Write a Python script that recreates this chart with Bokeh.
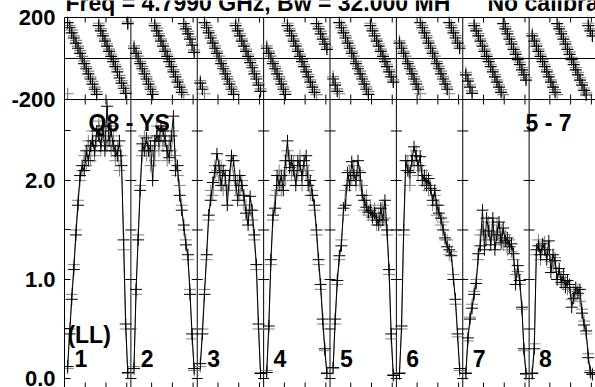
from bokeh.plotting import figure
from bokeh.models import Range1d, LinearAxis, FixedTicker, CustomJSTickFormatter, Span, Label
from bokeh.embed import file_html
from bokeh.resources import INLINE
import math

# ---------------- data ----------------
if_numbers = ["1", "2", "3", "4", "5", "6", "7", "8"]
channels = list(range(1, 31))          # 30 plotted channels per IF
x_ticks_in_if = [10, 20, 30]
amp_ticks = [0.0, 1.0, 2.0]
amp_minor_ticks = [0.5, 1.5, 2.5]
phase_ticks = [-200, 200]

amp_black = [
    [0.12, 0.45, 0.80, 1.10, 1.45, 1.75, 2.05, 2.15, 2.10, 2.30, 2.20, 2.35, 2.40, 2.30, 2.50, 2.45, 2.35, 2.55, 2.30, 2.75, 2.40, 2.50, 2.35, 2.30, 2.25, 2.40, 2.15, 1.40, 0.55, 0.06],
    [0.10, 0.90, 1.40, 1.90, 2.37, 2.30, 2.43, 2.30, 2.35, 2.00, 2.40, 2.45, 2.40, 2.55, 2.50, 2.40, 2.30, 2.23, 2.45, 2.65, 2.10, 2.15, 1.85, 1.70, 1.55, 1.35, 1.25, 0.85, 0.45, 0.10],
    [0.15, 0.45, 0.85, 1.25, 1.65, 1.80, 1.98, 2.08, 2.27, 2.15, 1.95, 2.10, 2.05, 1.75, 2.05, 2.25, 2.20, 2.00, 1.80, 2.05, 1.95, 1.85, 1.67, 1.55, 1.84, 1.70, 1.45, 1.15, 0.55, 0.05],
    [0.06, 0.53, 1.20, 1.65, 1.72, 2.05, 1.95, 2.05, 1.90, 2.20, 2.40, 2.13, 2.20, 2.10, 1.95, 2.20, 2.15, 2.05, 2.20, 2.25, 1.95, 2.00, 1.85, 1.75, 1.50, 1.20, 0.95, 0.60, 0.30, 0.05],
    [0.11, 0.60, 0.99, 1.24, 1.34, 1.72, 1.75, 2.08, 1.95, 2.19, 2.05, 2.00, 2.20, 2.08, 1.85, 1.80, 1.73, 1.68, 1.70, 1.63, 1.67, 1.60, 1.55, 1.72, 1.60, 1.80, 1.50, 1.10, 0.45, 0.03],
    [0.05, 0.53, 1.50, 2.20, 2.10, 2.08, 2.20, 2.34, 2.25, 2.15, 2.24, 2.00, 2.05, 1.95, 2.02, 1.92, 1.80, 1.90, 1.75, 1.67, 1.62, 1.50, 1.42, 1.33, 1.30, 1.24, 1.00, 0.80, 0.45, 0.10],
    [0.05, 0.41, 0.60, 0.71, 0.85, 0.96, 1.26, 1.34, 1.70, 1.30, 1.62, 1.49, 1.35, 1.62, 1.30, 1.45, 1.58, 1.37, 1.52, 1.39, 1.42, 1.33, 1.36, 1.26, 0.95, 1.14, 0.99, 0.72, 0.30, 0.05],
    [0.05, 0.30, 1.30, 1.34, 1.25, 1.36, 1.30, 1.20, 1.39, 1.07, 1.25, 1.19, 1.00, 1.11, 0.97, 1.05, 0.92, 0.99, 0.95, 0.72, 0.81, 0.92, 0.86, 0.90, 0.66, 0.54, 0.48, 0.21, 0.06, 0.04],
]

amp_grey = [
    [0.10, 0.50, 0.85, 1.15, 1.50, 1.80, 2.00, 2.10, 2.25, 2.15, 2.40, 2.20, 2.50, 2.25, 2.40, 2.60, 2.30, 2.45, 2.50, 2.35, 2.55, 2.30, 2.45, 2.20, 2.35, 2.10, 2.25, 1.30, 0.50, 0.05],
    [0.12, 0.85, 1.45, 1.95, 2.25, 2.45, 2.25, 2.40, 2.15, 2.30, 2.20, 2.55, 2.30, 2.45, 2.35, 2.50, 2.20, 2.40, 2.30, 2.50, 2.25, 2.05, 1.95, 1.75, 1.50, 1.40, 1.20, 0.90, 0.40, 0.08],
    [0.12, 0.50, 0.90, 1.20, 1.60, 1.90, 1.85, 2.15, 2.10, 2.00, 2.15, 1.90, 2.00, 1.90, 1.95, 2.20, 2.05, 1.90, 2.00, 1.85, 2.00, 1.75, 1.75, 1.60, 1.70, 1.60, 1.40, 1.10, 0.50, 0.06],
    [0.08, 0.50, 1.15, 1.60, 1.85, 1.90, 2.10, 1.90, 2.05, 2.00, 2.30, 2.25, 2.05, 2.20, 2.00, 2.05, 2.25, 1.95, 2.15, 2.05, 2.10, 1.85, 1.90, 1.70, 1.45, 1.15, 0.90, 0.55, 0.28, 0.06],
    [0.10, 0.55, 0.95, 1.20, 1.40, 1.65, 1.90, 1.95, 2.10, 2.00, 2.15, 1.95, 2.10, 1.95, 1.95, 1.70, 1.85, 1.65, 1.75, 1.60, 1.72, 1.55, 1.65, 1.58, 1.75, 1.62, 1.45, 1.05, 0.40, 0.04],
    [0.06, 0.50, 1.45, 2.10, 2.20, 1.95, 2.25, 2.15, 2.30, 2.05, 2.15, 2.10, 1.95, 2.05, 1.90, 1.95, 1.75, 1.85, 1.65, 1.75, 1.55, 1.58, 1.40, 1.40, 1.25, 1.28, 1.05, 0.75, 0.42, 0.08],
    [0.06, 0.38, 0.62, 0.75, 0.88, 1.00, 1.20, 1.45, 1.50, 1.45, 1.40, 1.58, 1.40, 1.48, 1.42, 1.55, 1.40, 1.48, 1.35, 1.45, 1.30, 1.40, 1.28, 1.20, 1.05, 1.08, 0.95, 0.70, 0.28, 0.04],
    [0.06, 0.35, 1.25, 1.40, 1.20, 1.32, 1.38, 1.25, 1.30, 1.18, 1.12, 1.22, 1.00, 1.08, 1.02, 0.95, 0.98, 0.90, 0.92, 0.80, 0.88, 0.84, 0.90, 0.78, 0.70, 0.58, 0.45, 0.25, 0.08, 0.05],
]

phase_black = [
    [175, 150, 125, 100, 75, 50, 25, 0, -25, -50, -75, -100, -125, -150, -175, 160, 135, 110, 85, 60, 35, 10, -15, -40, -65, -95, -120, -145, -170, 170],
    [50, 25, 0, -25, -50, -75, -100, -125, -150, -175, 160, 135, 110, 85, 60, 35, 10, -15, -40, -65, -90, -115, -140, -165, 170, 145, 120, 95, 65, 30],
    [-120, -150, 175, 150, 125, 100, 75, 50, 25, 0, -25, -50, -75, -100, -125, -150, -175, 160, 135, 110, 85, 60, 35, 10, -20, -45, -75, -100, -130, -160],
    [50, 25, 0, -25, -50, -75, -100, -125, -150, -175, 160, 135, 110, 85, 60, 35, 10, -15, -40, -65, -90, -115, -140, -165, 170, 145, 120, 95, 70, 45],
    [-100, -130, -160, 175, 150, 125, 100, 75, 50, 25, 0, -25, -50, -75, -100, -125, -150, -175, 160, 135, 110, 85, 60, 35, 10, -15, -40, -65, -90, -115],
    [75, 50, 25, 0, -25, -50, -75, -100, -125, -150, 175, 150, 125, 100, 75, 50, 25, 0, -25, -50, -75, -100, -125, -150, 175, 150, 125, 100, 75, 50],
    [-80, -110, -140, -170, 160, 135, 110, 85, 60, 35, 10, -15, -40, -65, -90, -115, -140, -165, 170, 145, 120, 95, 70, 45, 20, -5, -30, -55, -80, -105],
    [110, 85, 60, 35, 10, -15, -40, -65, -90, -115, -140, -165, 170, 145, 120, 95, 70, 45, 20, -5, -30, -55, -80, -105, -130, -155, -178, 160, 135, 110],
]

phase_grey = [
    [-172, 160, 138, 110, 88, 60, 38, 10, -12, -40, -62, -90, -112, -140, -162, 172, 146, 122, 96, 72, 46, 22, -4, -28, -52, -82, -108, -132, -158, 178],
    [62, 36, 12, -14, -38, -62, -88, -112, -138, -162, 172, 148, 122, 96, 72, 46, 22, -4, -28, -54, -78, -104, -128, -152, -176, 156, 132, 106, 78, 42],
    [-108, -138, -172, 162, 136, 112, 86, 62, 36, 12, -12, -38, -62, -88, -112, -138, -162, 172, 146, 122, 96, 72, 46, 22, -8, -34, -62, -88, -118, -148],
    [62, 36, 12, -14, -38, -62, -88, -112, -138, -162, 172, 146, 122, 96, 72, 46, 22, -4, -28, -54, -78, -104, -128, -152, -176, 156, 132, 106, 82, 56],
    [-88, -118, -148, -172, 162, 136, 112, 86, 62, 36, 12, -14, -38, -62, -88, -112, -138, -162, 172, 146, 122, 96, 72, 46, 22, -4, -28, -54, -78, -104],
    [86, 62, 36, 12, -14, -38, -62, -88, -112, -138, -172, 162, 136, 112, 86, 62, 36, 12, -14, -38, -62, -88, -112, -138, -172, 162, 136, 112, 86, 62],
    [-68, -98, -128, -158, 172, 146, 122, 96, 72, 46, 22, -4, -28, -54, -78, -104, -128, -152, -176, 156, 132, 106, 82, 56, 32, 6, -18, -44, -68, -94],
    [122, 96, 72, 46, 22, -4, -28, -54, -78, -104, -128, -152, -176, 156, 132, 106, 82, 56, 32, 6, -18, -44, -68, -94, -118, -144, -168, 172, 146, 122],
]

title_left = "Freq = 4.7990 GHz, Bw = 32.000 MH"
title_right = "No calibra"
source_label = "Q8 - YS"
baseline_label = "5 - 7"
pol_label = "(LL)"

# ---------------- geometry ----------------
IF_W = 32
FIG_W, FIG_H = 595, 387
BORDER_L = 64
PANEL_TOP_PX = 17.0                   # phase panel starts 17 px below the figure top
FRAME_W = FIG_W - BORDER_L
FRAME_H = FIG_H                       # frame spans the full height; title sits inside it
PHASE_PANEL_H = 82.0                  # px for -200..200
AMP_PANEL_TOP = 2.818                 # amplitude at the panel separator
AMP_PX = 99.0                         # px per amplitude unit
AMP_BOTTOM = AMP_PANEL_TOP - (FRAME_H - PANEL_TOP_PX - PHASE_PANEL_H) / AMP_PX
AMP_P200 = AMP_PANEL_TOP + PHASE_PANEL_H / AMP_PX     # amplitude coordinate of phase +200
AMP_TOP = AMP_P200 + PANEL_TOP_PX / AMP_PX
PH_PER_PX = 400.0 / PHASE_PANEL_H
PH_TOP = 200.0 + PANEL_TOP_PX * PH_PER_PX
PH_BOTTOM = PH_TOP - FRAME_H * PH_PER_PX
X_PX = FRAME_W / (IF_W * len(if_numbers))
LABEL_DY = 8.0                        # compensates the label baseline offset (px)


def phase_to_amp(ph):
    return AMP_P200 - (200.0 - ph) / PH_PER_PX / AMP_PX


FONT = "Liberation Sans"
BLACK = "#000000"
GREY = "#808080"

p = figure(width=FIG_W, height=FIG_H, output_backend="svg", toolbar_location=None,
           x_range=Range1d(0, IF_W * len(if_numbers)), y_range=Range1d(AMP_BOTTOM, AMP_TOP),
           x_axis_type=None, y_axis_type=None,
           min_border_left=BORDER_L, min_border_right=0, min_border_top=0, min_border_bottom=0)
p.extra_y_ranges = {"phase": Range1d(PH_BOTTOM, PH_TOP)}
p.outline_line_color = None
p.background_fill_color = "white"
p.border_fill_color = "white"

# ---- left axis (amplitude below, phase above) ----
left_ticks = amp_ticks + [phase_to_amp(v) for v in phase_ticks]
yax = LinearAxis(ticker=FixedTicker(ticks=left_ticks, minor_ticks=amp_minor_ticks),
                 bounds=(AMP_BOTTOM, AMP_P200))
yax.formatter = CustomJSTickFormatter(
    args=dict(lo=phase_to_amp(-200), hi=phase_to_amp(200)),
    code="""
    if (Math.abs(tick - hi) < 0.01) { return "200"; }
    if (Math.abs(tick - lo) < 0.01) { return "-200"; }
    return tick.toFixed(1);
    """)
yax.major_tick_in = 6
yax.major_tick_out = 0
yax.minor_tick_in = 6
yax.minor_tick_out = 0
yax.major_label_standoff = 9
yax.major_label_text_font = FONT
yax.major_label_text_font_style = "bold"
yax.major_label_text_font_size = "22px"
yax.major_label_text_color = BLACK
yax.axis_line_color = BLACK
p.add_layout(yax, "left")

# ---- panel lines ----
bounds_x = [i * IF_W for i in range(1, len(if_numbers))]
p.segment(x0=bounds_x, y0=[AMP_BOTTOM] * len(bounds_x), x1=bounds_x, y1=[AMP_P200] * len(bounds_x),
          line_color=BLACK, line_width=1)
for ph in (200, 0, -200):
    p.add_layout(Span(location=phase_to_amp(ph), dimension="width", line_color=BLACK, line_width=1))

# tick marks: IF boundaries, channel ticks on panel edges
bx, by = [], []
for xb in bounds_x:
    for lv in amp_ticks + amp_minor_ticks:
        bx.append(xb)
        by.append(lv)
p.scatter(bx, by, marker="dash", size=11, line_color=BLACK, line_width=1)
xt = [i * IF_W + t for i in range(len(if_numbers)) for t in x_ticks_in_if]
p.scatter(xt, [AMP_P200 - 2.5 / AMP_PX] * len(xt), marker="dash", angle=math.pi / 2,
          size=5, line_color=BLACK, line_width=1)
for yy in (phase_to_amp(-200), AMP_BOTTOM):
    p.scatter(xt, [yy] * len(xt), marker="dash", angle=math.pi / 2,
              size=10, line_color=BLACK, line_width=1)

# ---- data ----
def xs_for(i):
    return [i * IF_W + c + 0.5 for c in channels]

xs_all = [xs_for(i) for i in range(len(if_numbers))]
flat_x = [x for xs in xs_all for x in xs]

# grey series
p.multi_line(xs_all, amp_grey, line_color=GREY, line_width=1)
p.scatter(flat_x, [v for r in amp_grey for v in r], marker="cross", size=12,
          line_color=GREY, line_width=1)
p.scatter(flat_x, [v for r in phase_grey for v in r], y_range_name="phase",
          marker="cross", size=12, line_color=GREY, line_width=1.2)

# black series
p.multi_line(xs_all, amp_black, line_color=BLACK, line_width=1)
p.scatter(flat_x, [v for r in amp_black for v in r], marker="cross", size=12,
          line_color=BLACK, line_width=1)
p.scatter(flat_x, [v for r in phase_black for v in r], y_range_name="phase",
          marker="cross", size=12, line_color=BLACK, line_width=1.2)

# ---- texts ----
def lab(x, baseline_amp, t, size="23px"):
    p.add_layout(Label(x=x, y=baseline_amp + LABEL_DY / AMP_PX, text=t, text_font=FONT,
                       text_font_style="bold", text_font_size=size, text_color=BLACK,
                       text_baseline="alphabetic", text_align="left"))

title_base = AMP_P200 + 7.0 / AMP_PX      # baseline 7 px above the phase panel
lab(1.0 / X_PX, title_base, title_left)
lab((487 - BORDER_L) / X_PX, title_base, title_right)
lab(11.6, 2.495, source_label)
lab(222.3, 2.495, baseline_label)
lab(1.4, 0.354, pol_label)
for i, t in enumerate(if_numbers):
    lab(i * IF_W + 4.8, 0.121, t)

open("out.html", "w").write(file_html(p, INLINE))
